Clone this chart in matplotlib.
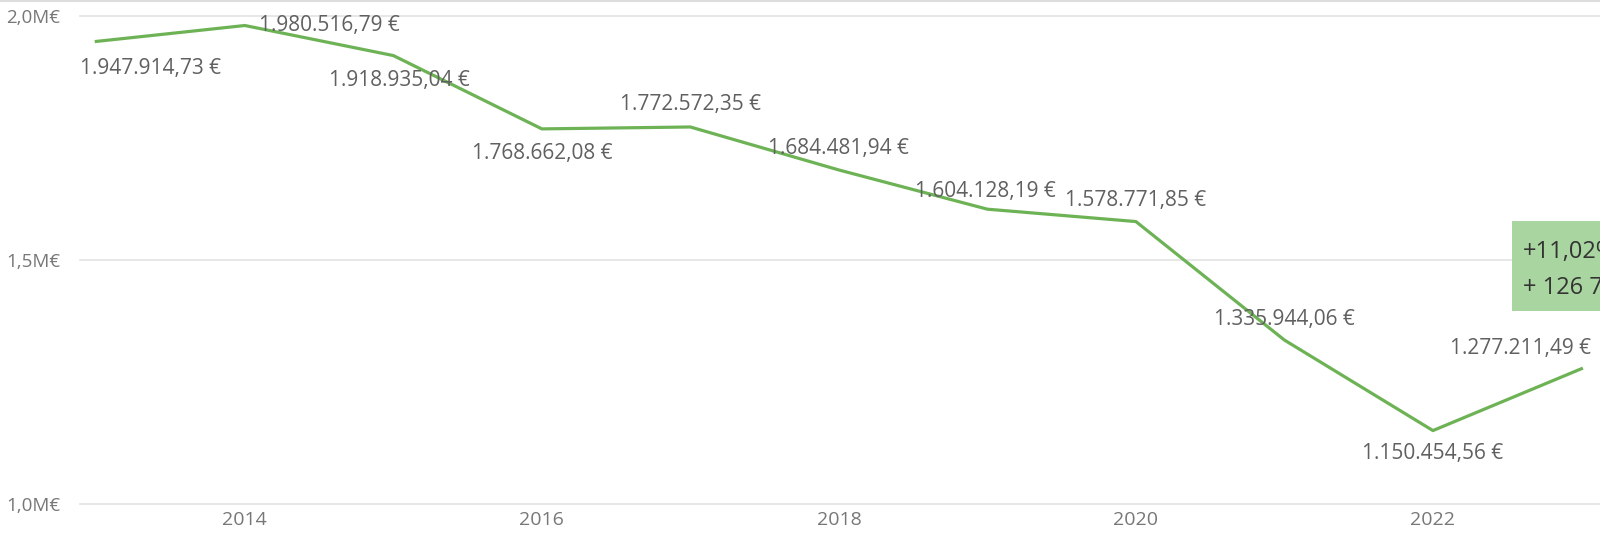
import matplotlib
matplotlib.use("Agg")
import matplotlib.pyplot as plt
from matplotlib.patches import Rectangle
from matplotlib.lines import Line2D

years = [2013, 2014, 2015, 2016, 2017, 2018, 2019, 2020, 2021, 2022, 2023]
values = [1947914.73, 1980516.79, 1918935.04, 1768662.08, 1772572.35, 1684481.94,
          1604128.19, 1578771.85, 1335944.06, 1150454.56, 1277211.49]
labels = ["1.947.914,73 €", "1.980.516,79 €", "1.918.935,04 €", "1.768.662,08 €",
          "1.772.572,35 €", "1.684.481,94 €", "1.604.128,19 €", "1.578.771,85 €",
          "1.335.944,06 €", "1.150.454,56 €", "1.277.211,49 €"]
ytick_vals = [1.0e6, 1.5e6, 2.0e6]
ytick_labels = ["1,0M€", "1,5M€", "2,0M€"]
xtick_vals = [2014, 2016, 2018, 2020, 2022]
change_text = ["+11,02%", "+ 126 757 €"]

# label placement (pixels from the point, up is positive)
label_dx = [54, 85, 6, 0, 0, 0, -2, 0, 0, 0, -61]
label_dy = [-27, 0, -25, -25, 22, 21, 18, 21, 21, -23, 20]

W, H = 1600, 534
fig = plt.figure(figsize=(16, 5.34), dpi=100)
ax = fig.add_axes([80 / W, 1 - 504 / H, 1 - 80 / W, (504 - 16) / H])

ax.set_xlim(2012.89, 2023.125)
ax.set_ylim(1.0e6, 2.0e6)
for s in ax.spines.values():
    s.set_visible(False)
ax.set_yticks(ytick_vals)
ax.set_yticklabels(ytick_labels)
ax.set_xticks(xtick_vals)
ax.set_xticklabels([str(x) for x in xtick_vals])
ax.tick_params(length=0, colors="#777777", labelsize=13.5)
ax.tick_params(axis="y", pad=14)
ax.tick_params(axis="x", pad=5, labelsize=14)
for t in ax.get_xticklabels() + ax.get_yticklabels():
    t.set_family("Open Sans")
ax.grid(axis="y", color="#e3e3e3", linewidth=1.2)
for gl in ax.get_ygridlines():
    gl.set_clip_on(False)
ax.set_axisbelow(True)

ax.plot(years, values, color="#6db356", linewidth=2.3, clip_on=False, zorder=3)

for x, y, lab, dx, dy in zip(years, values, labels, label_dx, label_dy):
    ax.annotate(lab, (x, y), xytext=(dx, dy), textcoords="offset pixels",
                ha="center", va="center", fontsize=15, color="#606060",
                family="Open Sans", annotation_clip=False, zorder=4)

# change box on the right edge
fig.patches.append(Rectangle((1512 / W, 1 - 311 / H), 120 / W, 90 / H,
                             transform=fig.transFigure, facecolor="#a9d5a0",
                             edgecolor="none", zorder=5))
fig.text(1523 / W, 1 - 252 / H, change_text[0], fontsize=17, color="#333333",
         family="Open Sans", va="center", ha="left", zorder=6)
fig.text(1523 / W, 1 - 288 / H, change_text[1], fontsize=17, color="#333333",
         family="Open Sans", va="center", ha="left", zorder=6)

fig.lines.append(Line2D([0, 1], [1 - 1 / H, 1 - 1 / H], transform=fig.transFigure,
                        color="#dddddd", linewidth=1.5))

fig.savefig("out.png", dpi=100)
